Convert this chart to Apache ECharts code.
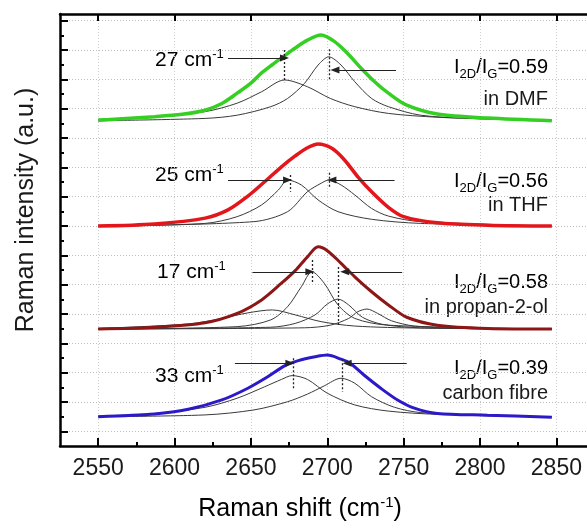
<!DOCTYPE html>
<html>
<head>
<meta charset="utf-8">
<script src="https://cdn.jsdelivr.net/npm/echarts@6/dist/echarts.min.js"></script>
<style>
  html, body { margin: 0; padding: 0; background: #fff; }
  #chart { width: 587px; height: 528px; }
</style>
</head>
<body>
<div id="chart"></div>
<script>
(function(){
  'use strict';
  var FONT = "'Liberation Sans', Arial, sans-serif";

  // axis ticks (cm-1 and a.u.)
  var majorX = [2550, 2600, 2650, 2700, 2750, 2800, 2850];
  var minorX = [2575, 2625, 2675, 2725, 2775, 2825];
  var majorY = [50, 150, 250, 350, 450, 550, 650, 750, 850, 950, 1050, 1150, 1250, 1350, 1450];
  var minorY = [100, 200, 300, 400, 500, 600, 700, 800, 900, 1000, 1100, 1200, 1300, 1400];

  // in DMF
  var dmfData = [[2550,1111],[2587,1123],[2605,1131],[2620,1145],[2631,1168],[2641,1203],[2650,1237],[2657,1272],[2664,1300],[2670,1323],[2679,1357],[2687,1384],[2696,1401],[2705,1378],[2713,1340],[2722,1289],[2731,1242],[2740,1203],[2752,1162],[2772,1132],[2805,1118],[2847,1109]];
  var dmfPeakA = [[2550,1114],[2587,1123],[2620,1140],[2641,1169],[2657,1208],[2672,1248],[2687,1225],[2702,1185],[2718,1157],[2740,1134],[2772,1121],[2805,1115],[2847,1111]];
  var dmfPeakB = [[2550,1109],[2620,1117],[2641,1128],[2663,1157],[2674,1185],[2685,1236],[2694,1299],[2701,1327],[2709,1299],[2718,1242],[2729,1185],[2740,1157],[2761,1128],[2794,1117],[2847,1111]];

  // in THF
  var thfData = [[2550,750],[2587,757],[2620,777],[2635,805],[2648,852],[2659,901],[2670,952],[2679,989],[2687,1017],[2694,1030],[2703,1015],[2711,977],[2720,918],[2729,867],[2740,814],[2750,782],[2772,761],[2805,753],[2847,750]];
  var thfPeakA = [[2550,750],[2620,759],[2641,782],[2657,822],[2668,873],[2674,907],[2683,890],[2694,839],[2707,799],[2729,773],[2761,759],[2847,750]];
  var thfPeakB = [[2550,750],[2652,765],[2674,799],[2687,867],[2696,896],[2701,907],[2709,890],[2718,856],[2729,810],[2740,784],[2761,765],[2847,750]];

  // in propan-2-ol
  var proData = [[2550,399],[2587,405],[2620,420],[2641,452],[2657,498],[2670,555],[2679,598],[2687,645],[2694,679],[2700,666],[2709,623],[2718,577],[2729,526],[2740,481],[2752,439],[2772,412],[2805,401],[2847,399]];
  var proPeakA = [[2550,399],[2641,407],[2663,430],[2674,475],[2683,543],[2690,594],[2698,555],[2707,481],[2718,435],[2740,412],[2847,399]];
  var proPeakB = [[2550,401],[2609,416],[2631,435],[2648,454],[2664,464],[2679,447],[2696,424],[2718,409],[2761,402],[2847,399]];
  var proPeakC = [[2550,399],[2663,405],[2679,418],[2692,447],[2700,484],[2707,501],[2714,481],[2723,439],[2736,415],[2761,403],[2847,399]];
  var proPeakD = [[2550,399],[2685,403],[2702,412],[2714,435],[2720,458],[2726,467],[2733,452],[2742,427],[2757,409],[2783,402],[2847,399]];

  // carbon fibre
  var cfData = [[2550,100],[2587,109],[2609,125],[2631,157],[2648,197],[2661,236],[2672,273],[2681,291],[2692,304],[2700,310],[2709,296],[2715,282],[2724,242],[2735,197],[2746,157],[2757,129],[2772,111],[2805,105],[2847,98]];
  var cfPeakA = [[2550,102],[2587,111],[2620,132],[2641,163],[2659,202],[2670,227],[2677,240],[2687,227],[2700,180],[2718,140],[2740,119],[2772,108],[2847,100]];
  var cfPeakB = [[2550,100],[2620,106],[2652,123],[2674,151],[2687,177],[2698,205],[2709,231],[2718,214],[2729,168],[2744,132],[2761,114],[2805,103],[2847,100]];

  // width markers: arrows [from, to, level], dashed lines [x, top, bottom]
  var dmfArrows = [[2635,2672,1323],[2745,2705,1282]];
  var dmfDash = [[2672,1350,1240],[2701.5,1353,1250]];
  var thfArrows = [[2635,2674,907],[2744,2703,907]];
  var thfDash = [[2675.5,924,867],[2701,932,878]];
  var proArrows = [[2651,2688.6,594],[2749,2711.4,594]];
  var proDash = [[2690,634,556],[2707.5,610,412]];
  var cfArrows = [[2639.5,2675.5,282],[2752,2713,282]];
  var cfDash = [[2677.7,299,197],[2710,296,185]];

  var widthLabels = ['27', '25', '17', '33'];
  var ratioLabels = ['0.59', '0.56', '0.58', '0.39'];
  var mediumLabels = ['in DMF', 'in THF', 'in propan-2-ol', 'carbon fibre'];

  function peak(data){
    return { type:'line', data:data, smooth:0.3, symbol:'none', silent:true, z:2,
      lineStyle:{ color:'#3a3a3a', width:1 } };
  }
  function marks(arrows, dashes){
    var d = arrows.map(function(a){
      return [{ coord:[a[0], a[2]] }, { coord:[a[1], a[2]] }];
    }).concat(dashes.map(function(t){
      return [{ coord:[t[0], t[1]], symbol:'none', lineStyle:{ type:[2,2], width:1.3, color:'#222' } },
              { coord:[t[0], t[2]], symbol:'none' }];
    }));
    return { silent:true, symbol:['none','triangle'], symbolSize:[7,9], label:{ show:false },
      emphasis:{ disabled:true }, lineStyle:{ color:'#222', width:1.2, type:'solid' },
      itemStyle:{ color:'#111' }, data:d };
  }
  function spectrum(data, color, width, arrows, dashes){
    return { type:'line', data:data, smooth:0.3, symbol:'none', silent:true, z:3,
      lineStyle:{ color:color, width:width }, markLine:marks(arrows, dashes) };
  }

  var series = [
    peak(dmfPeakA), peak(dmfPeakB),
    peak(thfPeakA), peak(thfPeakB),
    peak(proPeakA), peak(proPeakB), peak(proPeakC), peak(proPeakD),
    peak(cfPeakA), peak(cfPeakB),
    spectrum(dmfData, '#34cf22', 3.5, dmfArrows, dmfDash),
    spectrum(thfData, '#e3161c', 3.5, thfArrows, thfDash),
    spectrum(proData, '#8d1616', 3, proArrows, proDash),
    spectrum(cfData, '#2c19c8', 3, cfArrows, cfDash)
  ];

  var xRange = { min:2525, max:2872 };
  var axisLineStyle = { color:'#000', width:2.5 };
  var tickStyle = { color:'#000', width:2 };

  var supRich = { n:{ fontSize:21, fontFamily:FONT, color:'#1a1a1a' }, s:{ fontSize:13, fontFamily:FONT, color:'#1a1a1a', padding:[0,0,12,0] } };
  var subRich = { n:{ fontSize:20, fontFamily:FONT, color:'#1a1a1a' }, s:{ fontSize:13, fontFamily:FONT, color:'#1a1a1a', padding:[14,0,0,0] } };

  var widthPos = [[155,60],[155,175],[157,272],[155,376]];
  var ratioPos = [[548,67],[548,181],[548,282],[548,368]];
  var mediumPos = [[548,99],[548,205],[548,307],[548,393]];

  var graphic = [];
  widthLabels.forEach(function(w, i){
    graphic.push({ type:'text', x:widthPos[i][0], y:widthPos[i][1], silent:true,
      style:{ text:'{n|' + w + ' cm}{s|-1}', rich:supRich, align:'left', verticalAlign:'middle' } });
    graphic.push({ type:'text', x:ratioPos[i][0], y:ratioPos[i][1], silent:true,
      style:{ text:'{n|I}{s|2D}{n|/I}{s|G}{n|=' + ratioLabels[i] + '}', rich:subRich, align:'right', verticalAlign:'middle' } });
    graphic.push({ type:'text', x:mediumPos[i][0], y:mediumPos[i][1], silent:true,
      style:{ text:mediumLabels[i], fontSize:20, fontFamily:FONT, fill:'#1a1a1a', align:'right', verticalAlign:'middle' } });
  });
  graphic.push({ type:'text', x:26, y:210, rotation:Math.PI / 2, silent:true,
    style:{ text:'Raman intensity (a.u.)', fontSize:25, fontFamily:FONT, fill:'#1a1a1a', align:'center', verticalAlign:'middle' } });
  graphic.push({ type:'text', x:300, y:509, silent:true,
    style:{ text:'{n|Raman shift (cm}{s|-1}{n|)}', align:'center', verticalAlign:'middle',
      rich:{ n:{ fontSize:25, fontFamily:FONT, color:'#1a1a1a' }, s:{ fontSize:15, fontFamily:FONT, color:'#1a1a1a', padding:[0,0,13,0] } } } });

  var chart = echarts.init(document.getElementById('chart'), null, { renderer:'canvas' });
  chart.setOption({
    animation:false,
    backgroundColor:'#fff',
    grid:{ left:60, right:-3, top:14, bottom:82, containLabel:false, outerBoundsMode:'none' },
    xAxis:[
      { type:'value', min:xRange.min, max:xRange.max, position:'bottom',
        axisLine:{ lineStyle:axisLineStyle },
        axisTick:{ inside:true, length:8, customValues:majorX, lineStyle:tickStyle },
        axisLabel:{ customValues:majorX, fontSize:23, fontFamily:FONT, color:'#1a1a1a', margin:11,
          formatter:function(v){ return String(v); } },
        splitLine:{ show:true, lineStyle:{ type:[1,2], color:'#cfcfcf', width:1 } } },
      { type:'value', min:xRange.min, max:xRange.max, position:'bottom',
        axisLine:{ show:false },
        axisTick:{ inside:true, length:4, customValues:minorX, lineStyle:tickStyle },
        axisLabel:{ show:false }, splitLine:{ show:false } },
      { type:'value', min:xRange.min, max:xRange.max, position:'top',
        axisLine:{ lineStyle:axisLineStyle },
        axisTick:{ inside:true, length:7, customValues:majorX, lineStyle:tickStyle },
        axisLabel:{ show:false }, splitLine:{ show:false } }
    ],
    yAxis:[
      { type:'value', min:0, max:1473, position:'left',
        axisLine:{ show:true, lineStyle:axisLineStyle },
        axisTick:{ show:true, inside:true, length:8, customValues:majorY, lineStyle:tickStyle },
        axisLabel:{ show:false },
        splitLine:{ show:true, lineStyle:{ type:[1,2], color:'#bdbdbd', width:1 } } },
      { type:'value', min:0, max:1473, position:'left',
        axisLine:{ show:false },
        axisTick:{ show:true, inside:true, length:4, customValues:minorY, lineStyle:tickStyle },
        axisLabel:{ show:false }, splitLine:{ show:false } }
    ],
    series:series,
    graphic:graphic
  });
})();
</script>
</body>
</html>
